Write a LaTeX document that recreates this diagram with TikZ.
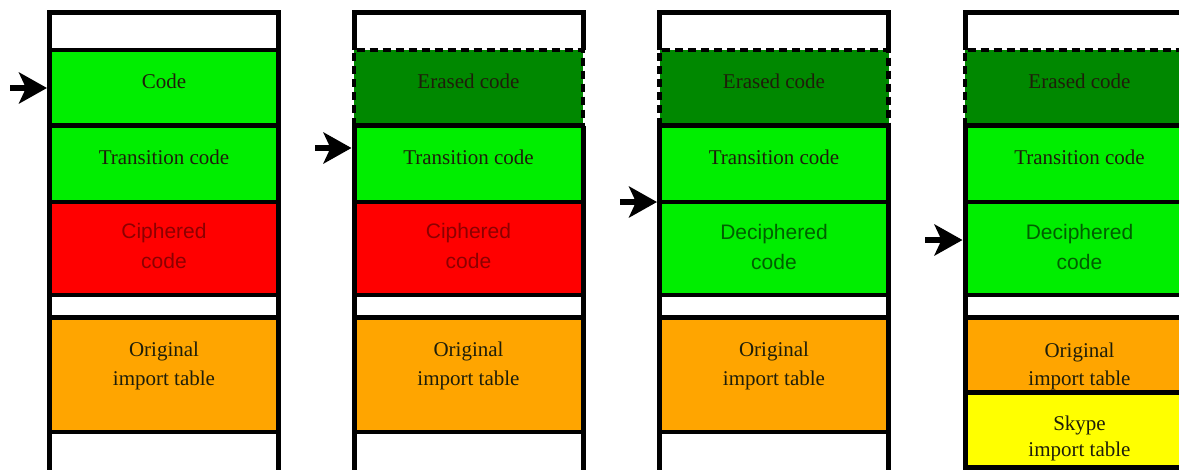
\documentclass[tikz,border=0pt]{standalone}
\usepackage{fontspec}
\setmainfont{Liberation Serif}
\newfontfamily\sansf{Liberation Sans}
\usetikzlibrary{arrows.meta}
\definecolor{brightgreen}{RGB}{0,238,0}
\definecolor{erasedgreen}{RGB}{0,136,0}
\definecolor{cipherred}{RGB}{255,0,0}
\definecolor{importorange}{RGB}{255,165,0}
\definecolor{skypeyellow}{RGB}{255,255,0}
\definecolor{darkredtext}{RGB}{140,0,0}
\definecolor{darkgreentext}{RGB}{0,95,0}
\definecolor{bodytext}{RGB}{30,30,10}
\newcommand{\mkseg}[5]{\node[seg, fill=#5, minimum height={(#4-#3)*1pt}] (#1) at ({#2+114.5},{(#3+#4)/2}) {};}
\begin{document}
\begin{tikzpicture}[x=1pt,y=-1pt,
  seg/.style={rectangle, draw=none, inner sep=0pt, outer sep=0pt, minimum width=229pt},
  frameline/.style={line width=5pt, line join=miter},
  sepline/.style={line width=4.5pt},
  erasedline/.style={line width=4.8pt, dash pattern=on 8pt off 5pt},
  lbl/.style={anchor=base, font=\fontsize{21}{25}\selectfont, text=bodytext, inner sep=0pt},
  sanslbl/.style={anchor=base, font=\sansf\fontsize{21}{25}\selectfont, inner sep=0pt},
  pointer/.style={line width=6pt, -{Stealth[length=28pt,width=31pt,inset=7pt]}},
]
\useasboundingbox (0,0) rectangle (1179,469);
\fill[white] (0,0) rectangle (1179,469);

% ---------- column 1 ----------
\mkseg{topA}{49.5}{12}{50}{white}
\mkseg{codeA}{49.5}{50}{125.5}{brightgreen}
\mkseg{transA}{49.5}{125.5}{202}{brightgreen}
\mkseg{ciphA}{49.5}{202}{295}{cipherred}
\mkseg{gapA}{49.5}{295}{317.5}{white}
\mkseg{origA}{49.5}{317.5}{432}{importorange}
\mkseg{botA}{49.5}{432}{480}{white}
\draw[frameline] (botA.south west) -- (topA.north west) -- (topA.north east) -- (botA.south east);
\foreach \s in {topA,codeA,transA,ciphA,gapA,origA}
  \draw[sepline] (\s.south west) -- (\s.south east);

% ---------- column 2 ----------
\mkseg{topB}{354}{12}{50}{white}
\mkseg{eraseB}{354}{50}{125.5}{erasedgreen}
\mkseg{transB}{354}{125.5}{202}{brightgreen}
\mkseg{ciphB}{354}{202}{295}{cipherred}
\mkseg{gapB}{354}{295}{317.5}{white}
\mkseg{origB}{354}{317.5}{432}{importorange}
\mkseg{botB}{354}{432}{480}{white}
\draw[frameline] (topB.south west) -- (topB.north west) -- (topB.north east) -- (topB.south east);
\draw[frameline] (transB.north west) -- (botB.south west);
\draw[frameline] (transB.north east) -- (botB.south east);
\draw[erasedline] (eraseB.south west) -- (eraseB.north west) -- (eraseB.north east) -- (eraseB.south east);
\foreach \s in {eraseB,transB,ciphB,gapB,origB}
  \draw[sepline] (\s.south west) -- (\s.south east);

% ---------- column 3 ----------
\mkseg{topC}{659.5}{12}{50}{white}
\mkseg{eraseC}{659.5}{50}{125.5}{erasedgreen}
\mkseg{transC}{659.5}{125.5}{202}{brightgreen}
\mkseg{decC}{659.5}{202}{295}{brightgreen}
\mkseg{gapC}{659.5}{295}{317.5}{white}
\mkseg{origC}{659.5}{317.5}{432}{importorange}
\mkseg{botC}{659.5}{432}{480}{white}
\draw[frameline] (topC.south west) -- (topC.north west) -- (topC.north east) -- (topC.south east);
\draw[frameline] (transC.north west) -- (botC.south west);
\draw[frameline] (transC.north east) -- (botC.south east);
\draw[erasedline] (eraseC.south west) -- (eraseC.north west) -- (eraseC.north east) -- (eraseC.south east);
\foreach \s in {eraseC,transC,decC,gapC,origC}
  \draw[sepline] (\s.south west) -- (\s.south east);

% ---------- column 4 ----------
\mkseg{topD}{965}{12}{50}{white}
\mkseg{eraseD}{965}{50}{125.5}{erasedgreen}
\mkseg{transD}{965}{125.5}{202}{brightgreen}
\mkseg{decD}{965}{202}{295}{brightgreen}
\mkseg{gapD}{965}{295}{317.5}{white}
\mkseg{origD}{965}{317.5}{392.5}{importorange}
\mkseg{skypeD}{965}{392.5}{467}{skypeyellow}
\draw[frameline] (topD.south west) -- (topD.north west) -- (topD.north east) -- (topD.south east);
\draw[frameline] (transD.north west) -- (skypeD.south west) -- (skypeD.south east) -- (transD.north east);
\draw[erasedline] (eraseD.south west) -- (eraseD.north west) -- (eraseD.north east) -- (eraseD.south east);
\foreach \s in {eraseD,transD,decD,gapD,origD}
  \draw[sepline] (\s.south west) -- (\s.south east);

% ---------- texts ----------
\node[lbl] (tcodeA) at (164,88) {Code};
\node[lbl] (ttransA) at (164,164) {Transition code};
\node[sanslbl, text=darkredtext] (tciphA1) at (164,238) {Ciphered};
\node[sanslbl, text=darkredtext] (tciphA2) at (164,268) {code};
\node[lbl] (torigA1) at (164,356) {Original};
\node[lbl] (torigA2) at (164,385) {import table};

\node[lbl] (teraseB) at (468.5,88) {Erased code};
\node[lbl] (ttransB) at (468.5,164) {Transition code};
\node[sanslbl, text=darkredtext] (tciphB1) at (468.5,238) {Ciphered};
\node[sanslbl, text=darkredtext] (tciphB2) at (468.5,268) {code};
\node[lbl] (torigB1) at (468.5,356) {Original};
\node[lbl] (torigB2) at (468.5,385) {import table};

\node[lbl] (teraseC) at (774,88) {Erased code};
\node[lbl] (ttransC) at (774,164) {Transition code};
\node[sanslbl, text=darkgreentext] (tdecC1) at (774,239) {Deciphered};
\node[sanslbl, text=darkgreentext] (tdecC2) at (774,269) {code};
\node[lbl] (torigC1) at (774,356) {Original};
\node[lbl] (torigC2) at (774,385) {import table};

\node[lbl] (teraseD) at (1079.5,88) {Erased code};
\node[lbl] (ttransD) at (1079.5,164) {Transition code};
\node[sanslbl, text=darkgreentext] (tdecD1) at (1079.5,239) {Deciphered};
\node[sanslbl, text=darkgreentext] (tdecD2) at (1079.5,269) {code};
\node[lbl] (torigD1) at (1079.5,357) {Original};
\node[lbl] (torigD2) at (1079.5,385) {import table};
\node[lbl] (tskypeD1) at (1079.5,430) {Skype};
\node[lbl] (tskypeD2) at (1079.5,456) {import table};

% ---------- pointers ----------
\coordinate (pA0) at (10,88);
\coordinate (pA1) at (47,88);
\coordinate (pB0) at (315,148);
\coordinate (pB1) at (351.5,148);
\coordinate (pC0) at (620,202);
\coordinate (pC1) at (657,202);
\coordinate (pD0) at (925,240);
\coordinate (pD1) at (962.5,240);
\draw[pointer] (pA0) -- (pA1);
\draw[pointer] (pB0) -- (pB1);
\draw[pointer] (pC0) -- (pC1);
\draw[pointer] (pD0) -- (pD1);
\end{tikzpicture}
\end{document}
